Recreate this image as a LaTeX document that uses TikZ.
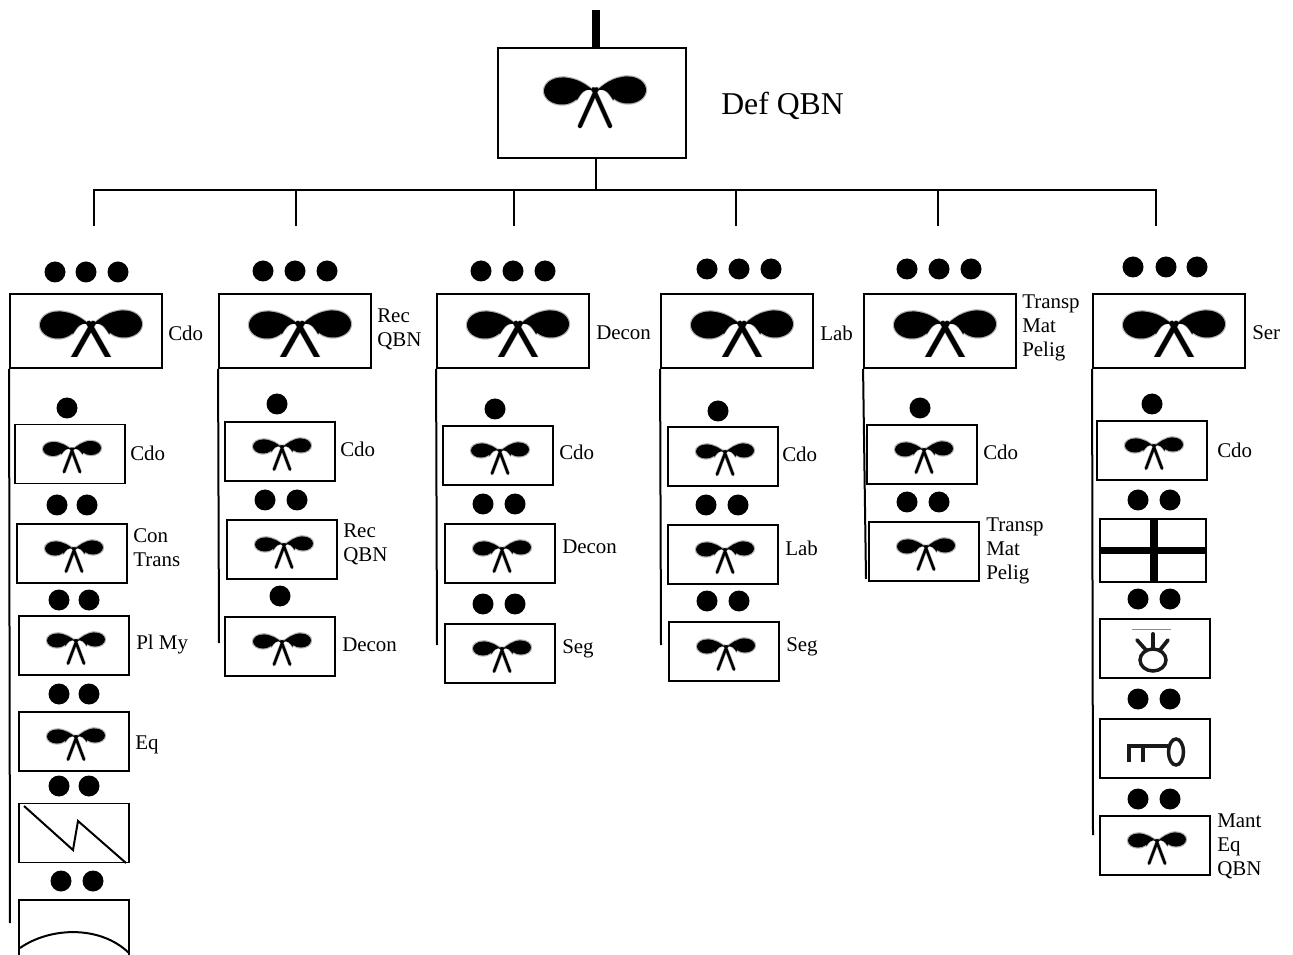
\documentclass[tikz,border=0pt]{standalone}
\usepackage{fontspec}
\setmainfont{Liberation Serif}
\usetikzlibrary{calc}
\newcommand{\bowshape}[6]{% lobe dx, lobe rx, lobe ry, leg dx, leg dy, leg width (px)
  \foreach \c/\e in {black!30/1.2,black/0}{
    \fill[\c] (-#1,-1) ellipse [x radius=#2+\e, y radius=#3+\e];
    \fill[\c] (#1,-2) ellipse [x radius=#2+\e, y radius=#3+\e];
    \fill[\c] (-#1,-1-#3-\e) .. controls (-#1*0.55,-1-#3-\e) and (-#1*0.25,-#3*0.55-\e) .. (0,-\e) .. controls (-#1*0.3,-#3*0.45+\e) and (-#1*0.42,#3*0.1+\e) .. (-#1*0.55,#3*0.6+\e) -- cycle;
    \fill[\c] (#1,-2-#3-\e) .. controls (#1*0.55,-2-#3-\e) and (#1*0.25,-#3*0.55-\e) .. (0,-\e) .. controls (#1*0.3,-#3*0.45+\e) and (#1*0.42,#3*0.1+\e) .. (#1*0.55,#3*0.6+\e) -- cycle;
    \draw[\c,line width=(#6+\e)*0.75pt,line cap=round] (#4*0.1,-#3*0.2) -- (-#4,#5) (-#4*0.1,-#3*0.2) -- (#4,#5);
  }
}
\tikzset{
  x=0.75pt, y=-0.75pt,
  link/.style={line width=1.5pt,draw=black},
  stem/.style={line width=6pt,draw=black},
  bigbox/.style={draw=black,line width=1.5pt,fill=white,minimum width=141pt,minimum height=82.5pt,inner sep=0pt},
  midbox/.style={draw=black,line width=1.4pt,fill=white,minimum width=114pt,minimum height=55.5pt,inner sep=0pt},
  smallbox/.style={draw=black,line width=1.3pt,fill=white,minimum width=82.5pt,minimum height=44.25pt,inner sep=0pt},
  bigdot/.style={circle,fill=black,minimum size=15.75pt,inner sep=0pt},
  lab/.style={font=\fontsize{15.7}{18}\selectfont,align=left,anchor=west,inner sep=0pt},
  title/.style={font=\fontsize{23.8}{28}\selectfont,anchor=west,inner sep=0pt},
  glyph/.style={line width=1.5pt,draw=black},
  pics/bowbig/.style={code={\bowshape{33}{18}{13.5}{15}{34}{4}}},
  pics/bowmid/.style={code={\begin{scope}\clip (-60,-25) rectangle (60,31);\bowshape{33}{18}{13.5}{21}{38}{5}\end{scope}}},
  pics/bowsmall/.style={code={\bowshape{19}{10}{7}{8}{22}{2.6}}},
}
\begin{document}
\begin{tikzpicture}
\useasboundingbox (0,0) rectangle (1293,955);
% top
\node[bigbox] (top) at (592,103) {};
\coordinate (stemtop) at (596,10);
\draw[stem] (stemtop) -- (stemtop |- top.north);
\pic at (595,92) {bowbig};
\node[title] (toplab) at (721,106) {Def QBN};
\coordinate (bus) at (596,190);
\coordinate (d1) at (94,226);\coordinate (d2) at (296,226);\coordinate (d3) at (514,226);
\coordinate (d4) at (736,226);\coordinate (d5) at (938,226);\coordinate (d6) at (1156,226);
\draw[link] (596,158) -- (bus);
\draw[link] (d1) |- (bus) -| (d6);
\foreach \n in {d2,d3,d4,d5} \draw[link] (\n) -- (\n |- bus);
% dots
\foreach[count=\i] \x/\y in {55/272,86/272,118/272,263/271,295/271,327/271,481/271,513/271,545/271,707/269,739/269,771/269,907/269,939/269,971/269,1133/267,1166/267,1197/267,
 67/408,57/505,87/505,59/600,89/600,59/694,89/694,59/786,89/786,61/881,93/881,
 277/404,265/500,297/500,280/596,
 495/409,483/504,515/504,483/604,515/604,
 718/411,706/505,738/505,707/601,739/601,
 920/408,907/502,939/502,
 1152/404,1138/500,1170/500,1138/599,1170/599,1138/699,1170/699,1138/799,1170/799}
  \node[bigdot] (dot\i) at (\x,\y) {};
% level 2
\foreach \n/\x in {m1/86,m2/295,m3/513,m4/737,m5/940,m6/1169} {
  \node[midbox] (\n) at (\x,331) {};
  \pic at (\x+5,326) {bowmid};
}
\node[lab] (lm1) at (168,333) {Cdo};
\node[lab] (lm2) at (377,329) {Rec\\QBN};
\node[lab] (lm3) at (596,333) {Decon};
\node[lab] (lm4) at (820,333) {Lab};
\node[lab] (lm5) at (1022,328) {Transp\\Mat\\Pelig};
\node[lab] (lm6) at (1252,333) {Ser};
% branch lines
\coordinate (e1) at (10,923);\coordinate (e2) at (219,643);\coordinate (e3) at (437,645);
\coordinate (e4) at (661,645);\coordinate (e5) at (866,579);\coordinate (e6) at (1093,835);
\foreach \n/\e in {m1/e1,m2/e2,m3/e3,m4/e4,m5/e5,m6/e6} \draw[link] (\n.south west) -- (\e);
% small boxes with bow
\foreach \n/\x/\y in {a1/70/454,a2/72/553.5,a3/74/645.5,a4/74/741.5,
 b1/280/451.5,b2/282/549.5,b3/280/646.5,
 c1/498/455.5,c2/500/553.5,c3/500/653.5,
 f1/723/456.5,f2/723/554.5,f3/724/651.5,
 g1/922/454.5,g2/924/551.5,
 h1/1152/450.5,h5/1155/845.5} {
  \node[smallbox] (\n) at (\x,\y) {};
  \pic at (\x+2,\y-4) {bowsmall};
}
% small boxes with other glyphs
\node[smallbox] (a5) at (74,833) {};
\node[smallbox] (a6) at (74,929.5) {};
\node[smallbox,minimum width=79.5pt,minimum height=47.25pt] (h2) at (1153,550.5) {};
\node[smallbox] (h3) at (1155,648.5) {};
\node[smallbox] (h4) at (1155,748.5) {};
% zigzag
\draw[glyph] (24,806) -- (73,850) -- (78,821) -- (126,863);
% arc
\draw[glyph] (20,948) .. controls (50,927) and (100,925) .. (129,953);
% cross
\draw[line width=5.3pt,draw=black] (h2.west) -- (h2.east);
\draw[line width=5.3pt,draw=black] (1154,519) -- (1154,582);
% crown ring
\draw[line width=0.6pt,draw=black!45] (1132,629) -- (1171,629);
\draw[line width=2.6pt,draw=black!90] (1153,660) circle [x radius=13,y radius=11];
\draw[line width=3pt,line cap=round,draw=black!90] (1153,634) -- (1153,648);
\draw[line width=2.8pt,line cap=round,draw=black!90] (1137,640) -- (1146,650);
\draw[line width=2.8pt,line cap=round,draw=black!90] (1168,640) -- (1160,650);
% key
\draw[line width=2.6pt,draw=black!90] (1176,752) circle [x radius=7.5,y radius=13];
\draw[line width=3pt,draw=black!90] (1168,746) -- (1129,746) -- (1129,762);
\draw[line width=3pt,draw=black!90] (1143,746) -- (1143,762);
% small labels
\node[lab] (la1) at (130,453) {Cdo};
\node[lab] (la2) at (133,547.5) {Con\\Trans};
\node[lab] (la3) at (136,644) {Pl My};
\node[lab] (la4) at (135,745) {Eq};
\node[lab] (lb1) at (340,449) {Cdo};
\node[lab] (lb2) at (343,544) {Rec\\QBN};
\node[lab] (lb3) at (342,645) {Decon};
\node[lab] (lc1) at (559,452) {Cdo};
\node[lab] (lc2) at (562,547) {Decon};
\node[lab] (lc3) at (562,648.5) {Seg};
\node[lab] (lf1) at (782,454) {Cdo};
\node[lab] (lf2) at (785,548) {Lab};
\node[lab] (lf3) at (786,646.5) {Seg};
\node[lab] (lg1) at (983,452) {Cdo};
\node[lab] (lg2) at (986,551) {Transp\\Mat\\Pelig};
\node[lab] (lh1) at (1217,450) {Cdo};
\node[lab] (lh5) at (1217,846) {Mant\\Eq\\QBN};
\end{tikzpicture}
\end{document}
